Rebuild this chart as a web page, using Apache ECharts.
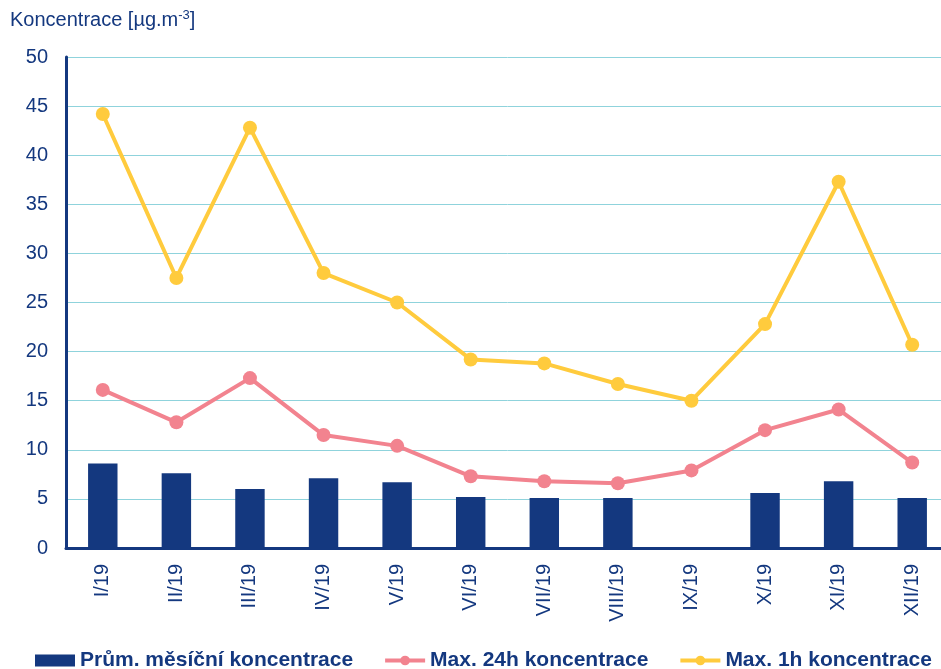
<!DOCTYPE html>
<html><head><meta charset="utf-8">
<script src="https://cdn.jsdelivr.net/npm/echarts@6/dist/echarts.min.js"></script>
<style>html,body{margin:0;padding:0;background:#fff;overflow:hidden;width:941px;height:669px}#c{width:960px;height:669px}</style>
</head><body><div id="c"></div>
<script>
const categories = ['I/19','II/19','III/19','IV/19','V/19','VI/19','VII/19','VIII/19','IX/19','X/19','XI/19','XII/19'];
const avgMonthly = [8.6, 7.6, 6.0, 7.1, 6.7, 5.2, 5.1, 5.1, null, 5.6, 6.8, 5.1];
const max24h = [16.1, 12.8, 17.3, 11.5, 10.4, 7.3, 6.8, 6.6, 7.9, 12.0, 14.1, 8.7];
const max1h = [44.2, 27.5, 42.8, 28.0, 25.0, 19.2, 18.8, 16.7, 15.0, 22.8, 37.3, 20.7];
const yTicks = [0, 5, 10, 15, 20, 25, 30, 35, 40, 45, 50];
const seriesNames = ['Prům. měsíční koncentrace', 'Max. 24h koncentrace', 'Max. 1h koncentrace'];

const navy = '#14387F';
const pink = '#F2838F';
const yellow = '#FFCB3D';
const font = 'Liberation Sans, Arial, sans-serif';
const chart = echarts.init(document.getElementById('c'));
chart.setOption({
  animation: false,
  grid: {left: 66, right: 11, top: 57, bottom: 121, containLabel: false},
  graphic: [{
    type: 'text', left: 10, top: 9,
    style: {
      text: '{a|Koncentrace [µg.m}{s|-3}{a|]}',
      fill: navy,
      rich: {
        a: {fontSize: 20, fontFamily: font, fill: navy},
        s: {fontSize: 13, fontFamily: font, fill: navy, verticalAlign: 'top', padding: [0,0,10,0]}
      }
    }
  }],
  legend: {
    top: 645, left: 30, itemGap: 30, itemWidth: 40, itemHeight: 12,
    textStyle: {fontSize: 21, fontWeight: 'bold', fontFamily: font, color: navy},
    data: [
      {name: seriesNames[0], icon: 'rect'},
      {name: seriesNames[1], lineStyle: {width: 4}},
      {name: seriesNames[2], lineStyle: {width: 4}}
    ]
  },
  xAxis: {
    type: 'category', data: categories,
    axisLine: {lineStyle: {color: navy, width: 3}},
    axisTick: {show: false},
    axisLabel: {rotate: 90, fontSize: 20, fontFamily: font, color: navy, margin: 16}
  },
  yAxis: {
    type: 'value', min: yTicks[0], max: yTicks[yTicks.length-1], interval: 5,
    axisLine: {show: true, lineStyle: {color: navy, width: 3}},
    axisTick: {show: false},
    axisLabel: {fontSize: 20, fontFamily: font, color: navy, margin: 18},
    splitLine: {lineStyle: {color: '#8fd3dc', width: 1}}
  },
  series: [
    {name: seriesNames[0], type: 'bar', data: avgMonthly, barWidth: '40%', itemStyle: {color: navy}, z: 2},
    {name: seriesNames[1], type: 'line', data: max24h, symbol: 'circle', symbolSize: 14,
      lineStyle: {color: pink, width: 4}, itemStyle: {color: pink}, z: 3},
    {name: seriesNames[2], type: 'line', data: max1h, symbol: 'circle', symbolSize: 14,
      lineStyle: {color: yellow, width: 4}, itemStyle: {color: yellow}, z: 4}
  ]
});
</script></body></html>
